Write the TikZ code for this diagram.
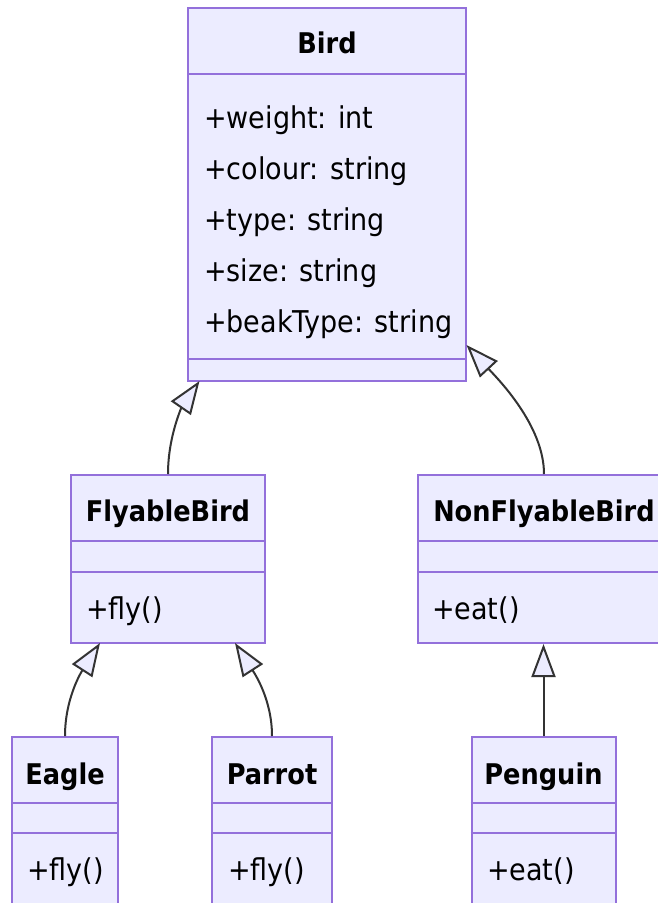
\documentclass[tikz,border=0pt]{standalone}
\usepackage{fontspec}
\setmainfont{DejaVu Sans Condensed}
\usetikzlibrary{arrows.meta}
\definecolor{clsfill}{HTML}{ECECFF}
\definecolor{clsline}{HTML}{9370DB}
\definecolor{edgecol}{HTML}{333333}
\begin{document}
\begin{tikzpicture}[x=1pt,y=-1pt,
  cls/.style={draw=clsline, fill=clsfill, line width=2pt, rectangle, inner sep=0pt},
  sepline/.style={draw=clsline, line width=2pt},
  title/.style={anchor=base, inner sep=0pt, text=black, font=\fontsize{28.5}{32}\selectfont\bfseries},
  member/.style={anchor=base west, inner sep=0pt, text=black, font=\fontsize{30}{34}\selectfont},
  inherit/.style={draw=edgecol, line width=2pt, -{Triangle[length=33pt,width=24pt,fill=clsfill,line width=2pt]}}]
\useasboundingbox (0,0) rectangle (658,903);
\clip (0,0) rectangle (658,903);

% class boxes
\node[cls, minimum width=278pt, minimum height=373pt] (bird) at (327,194.5) {};
\node[cls, minimum width=194pt, minimum height=168pt] (fly) at (168,559) {};
\node[cls, minimum width=252pt, minimum height=168pt] (nonfly) at (544,559) {};
\node[cls, minimum width=106pt, minimum height=168pt] (eagle) at (65,821) {};
\node[cls, minimum width=120pt, minimum height=168pt] (parrot) at (272,821) {};
\node[cls, minimum width=144pt, minimum height=168pt] (penguin) at (543.5,821) {};

% section separators
\draw[sepline] (bird.west |- 0,74) -- (bird.east |- 0,74);
\draw[sepline] (bird.west |- 0,359) -- (bird.east |- 0,359);
\foreach \n in {fly,nonfly}{
  \draw[sepline] (\n.west |- 0,541) -- (\n.east |- 0,541);
  \draw[sepline] (\n.west |- 0,572) -- (\n.east |- 0,572);
}
\foreach \n in {eagle,parrot,penguin}{
  \draw[sepline] (\n.west |- 0,803) -- (\n.east |- 0,803);
  \draw[sepline] (\n.west |- 0,833) -- (\n.east |- 0,833);
}

% titles
\node[title] (birdT) at (327,53) {Bird};
\node[title] (flyT) at (168,521) {FlyableBird};
\node[title] (nonflyT) at (544,521) {NonFlyableBird};
\node[title] (eagleT) at (65,784) {Eagle};
\node[title] (parrotT) at (272,784) {Parrot};
\node[title] (penguinT) at (543.5,784) {Penguin};

% members
\node[member] (a1) at (204,128) {+weight: int};
\node[member] (a2) at (204,179) {+colour: string};
\node[member] (a3) at (204,230) {+type: string};
\node[member] (a4) at (204,281) {+size: string};
\node[member] (a5) at (204,332) {+beakType: string};
\node[member] (m1) at (86,619) {+fly()};
\node[member] (m2) at (432,619) {+eat()};
\node[member] (m3) at (27,880) {+fly()};
\node[member] (m4) at (228,880) {+fly()};
\node[member] (m5) at (487,880) {+eat()};

% connector end points
\coordinate (birdL) at (199.5,381);
\coordinate (birdR) at (466.5,345);
\coordinate (flyL) at (100,643);
\coordinate (flyR) at (235,643);

% inheritance connectors
\draw[inherit] (fly.north) .. controls (168,435) and (183,405) .. (birdL);
\draw[inherit] (nonfly.north) .. controls (544,425) and (497,378) .. (birdR);
\draw[inherit] (eagle.north) .. controls (65,700) and (80,674) .. (flyL);
\draw[inherit] (parrot.north) .. controls (272,700) and (255,674) .. (flyR);
\draw[inherit] (penguin.north) -- (penguin.north |- nonfly.south);
\end{tikzpicture}
\end{document}
